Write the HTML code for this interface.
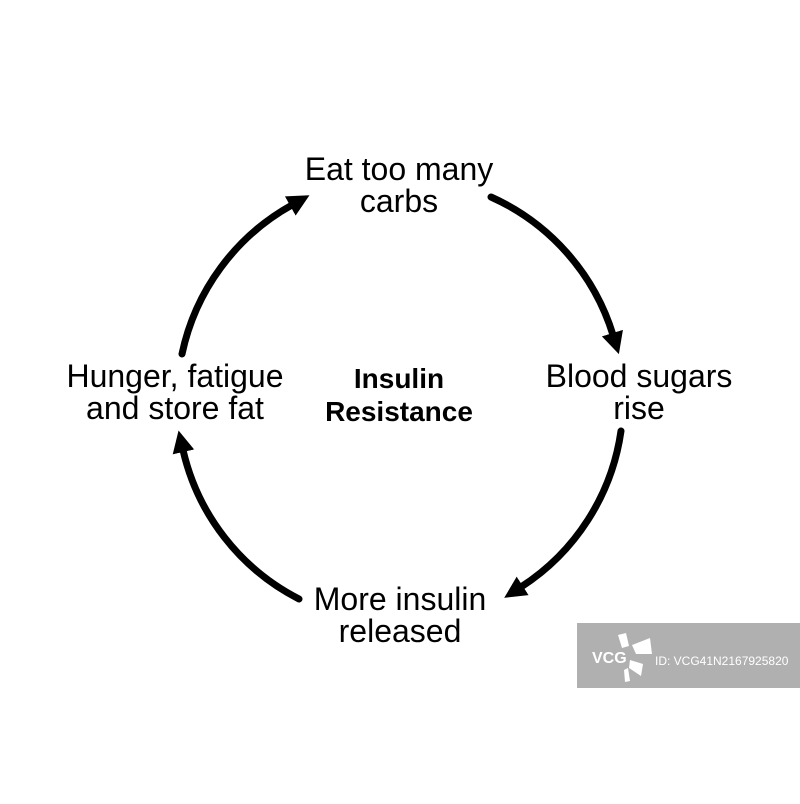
<!DOCTYPE html>
<html><head><style>html,body{margin:0;padding:0;background:#fff}</style></head>
<body>
<svg width="800" height="799" viewBox="0 0 800 799" xmlns="http://www.w3.org/2000/svg">
<defs>
<marker id="ah" markerUnits="userSpaceOnUse" markerWidth="30" markerHeight="30" refX="2" refY="11" orient="auto">
<path d="M0,0 L22,11 L0,22 Z" fill="#000"/>
</marker>
</defs>
<g fill="none" stroke="#000" stroke-width="7" stroke-linecap="round">
<path d="M491,197 A223,223 0 0 1 613,335" marker-end="url(#ah)"/>
<path d="M621,431 A223,223 0 0 1 521,587" marker-end="url(#ah)"/>
<path d="M299,599 A223,223 0 0 1 183,450" marker-end="url(#ah)"/>
<path d="M182,354 A223,223 0 0 1 292,205" marker-end="url(#ah)"/>
</g>
<g font-family="Liberation Sans, sans-serif" font-size="32" text-anchor="middle" fill="#000">
<text x="399" y="180">Eat too many</text>
<text x="399" y="212">carbs</text>
<text x="639" y="387">Blood sugars</text>
<text x="639" y="419">rise</text>
<text x="400" y="610">More insulin</text>
<text x="400" y="642">released</text>
<text x="175" y="387">Hunger, fatigue</text>
<text x="175" y="419">and store fat</text>
</g>
<g font-family="Liberation Sans, sans-serif" font-size="28" font-weight="bold" text-anchor="middle" fill="#000">
<text x="399" y="388">Insulin</text>
<text x="399" y="421">Resistance</text>
</g>
<rect x="577" y="623" width="223" height="65" fill="#b0b0b0"/>
<g fill="#fff">
<text x="592" y="663" font-family="Liberation Sans, sans-serif" font-size="16" font-weight="bold">VCG</text>
<polygon points="618,635 626,633 629,646 622,648"/>
<polygon points="632,645 650,638 652,654 636,654"/>
<polygon points="630,660 643,664 641,676 629,668"/>
<polygon points="628,668 630,681 625,682 624,670"/>
<text x="655" y="665" font-family="Liberation Sans, sans-serif" font-size="12">ID: VCG41N2167925820</text>
</g>
</svg>
</body></html>
